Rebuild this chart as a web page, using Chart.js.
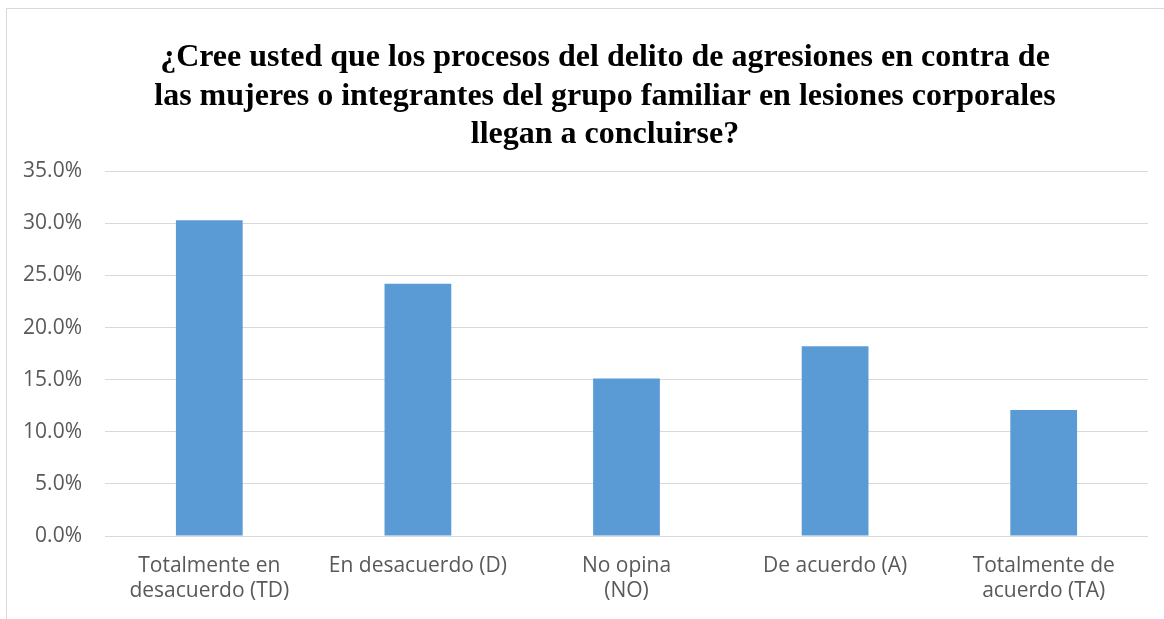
<!DOCTYPE html>
<html>
<head>
<meta charset="utf-8">
<script src="https://cdn.jsdelivr.net/npm/chart.js@4/dist/chart.umd.min.js"></script>
<style>
  body { margin: 0; background: #fff; overflow: hidden; }
  #box {
    position: absolute; left: 6px; top: 8px;
    width: 1158px; height: 611px; overflow: hidden;
    border-left: 1px solid #d9d9d9; border-top: 1px solid #d9d9d9;
  }
</style>
</head>
<body>
<div id="box"><canvas id="chart" width="1158" height="611"></canvas></div>
<script>
// Survey answers, in percent
const categories = [
    ['Totalmente en', 'desacuerdo (TD)'],
    'En desacuerdo (D)',
    ['No opina', '(NO)'],
    'De acuerdo (A)',
    ['Totalmente de', 'acuerdo (TA)']
];
const percentages = [30.3, 24.2, 15.1, 18.2, 12.1];
const titleLines = [
    '¿Cree usted que los procesos del delito de agresiones en contra de',
    'las mujeres o integrantes del grupo familiar en lesiones corporales',
    'llegan a concluirse?'
];

const labelColor = '#595959';
const gridColor = '#d9d9d9';

// the original title is centred a bit right of the canvas centre
const shiftTitle = {
    id: 'shiftTitle',
    afterLayout(chart) {
        if (chart.titleBlock) chart.titleBlock.left += 55;
    }
};

new Chart(document.getElementById('chart'), {
    type: 'bar',
    data: {
        labels: categories,
        datasets: [{
            data: percentages,
            backgroundColor: '#5b9bd5',
            barPercentage: 0.32,
            categoryPercentage: 1
        }]
    },
    options: {
        responsive: false,
        animation: false,
        layout: { padding: { left: 0, right: 17, top: 0, bottom: 0 } },
        plugins: {
            legend: { display: false },
            tooltip: { enabled: false },
            title: {
                display: true,
                text: titleLines,
                color: '#000',
                font: { family: '"Liberation Serif", "Times New Roman", serif', size: 32, weight: 'bold', lineHeight: 1.2 },
                padding: { top: 30, bottom: 17 }
            }
        },
        scales: {
            x: {
                grid: { display: false, drawTicks: false },
                border: { display: false },
                ticks: {
                    color: labelColor,
                    padding: 18,
                    maxRotation: 0,
                    autoSkip: false,
                    font: { family: '"Open Sans", sans-serif', size: 21, lineHeight: 1.19 }
                },
                afterFit: function(scale) { scale.height = 84; }
            },
            y: {
                min: 0,
                max: 35,
                grid: { color: gridColor, lineWidth: 1, drawTicks: false },
                border: { display: false },
                ticks: {
                    stepSize: 5,
                    color: labelColor,
                    padding: 23,
                    font: { family: '"Open Sans", sans-serif', size: 21 },
                    callback: function(v) { return v.toFixed(1) + '%'; }
                },
                afterFit: function(scale) { scale.width = 98; }
            }
        }
    },
    plugins: [shiftTitle]
});
</script>
</body>
</html>
